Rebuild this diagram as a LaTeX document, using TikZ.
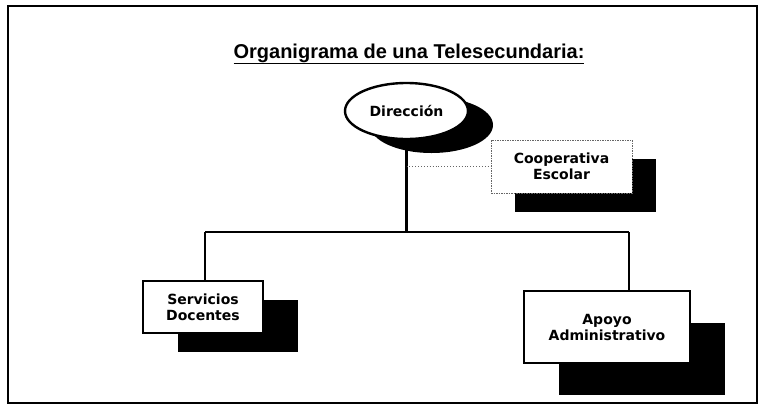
\documentclass[tikz,border=0pt]{standalone}
\usepackage{fontspec}
\setmainfont{Liberation Sans}
\newfontfamily\labelfont{DejaVu Sans}
\usepackage{tikz}
\usetikzlibrary{shapes.geometric, shadows}

\tikzset{
	unit/.style = {draw, line width = 1.5pt, fill = white, inner sep = 0pt, align = center,
		font = \labelfont\bfseries\fontsize{14}{16}\selectfont},
	shade/.style 2 args = {drop shadow = {shadow xshift = #1pt, shadow yshift = -#2pt, fill = black, opacity = 1}},
	link/.style = {line width = 2.4pt}
}

\begin{document}
\begin{tikzpicture}[x = 1pt, y = -1pt]
		
		\useasboundingbox (0, 0) rectangle (761, 405);
		\draw[line width = 1.8pt] (8, 6) rectangle (757, 403);
		
		\node[anchor = base, font = \bfseries\fontsize{20}{24}\selectfont] (title) at (409, 58) {\underline{Organigrama de una Telesecundaria:}};
		
		\node[unit, ellipse, line width = 2.4pt, minimum width = 123pt, minimum height = 56pt, shade = {25}{14}] (dir) at (406.5, 111) {Dirección};
		\node[unit, draw = black!60, densely dotted, line width = 0.8pt, minimum width = 141pt, minimum height = 53pt, shade = {24}{19}] (coop) at (561.5, 166.5) {Cooperativa\\Escolar};
		\node[unit, minimum width = 120pt, minimum height = 52pt, shade = {35}{19}] (serv) at (203, 307) {Servicios\\Docentes};
		\node[unit, minimum width = 166pt, minimum height = 72pt, shade = {35}{32}] (apoyo) at (607, 327) {Apoyo\\Administrativo};
		
		\coordinate (hl) at (205, 232);
		\coordinate (hr) at (629, 232);
		
		\draw[link] (dir.south) -- (dir.south |- hl);
		\draw[link] (hl) -- (hr);
		\draw[link] (hl) -- (hl |- serv.north);
		\draw[link] (hr) -- (hr |- apoyo.north);
		\draw[black!60, dotted, line width = 0.9pt] (dir.south |- coop.west) -- (coop.west);
		
	\end{tikzpicture}
\end{document}
